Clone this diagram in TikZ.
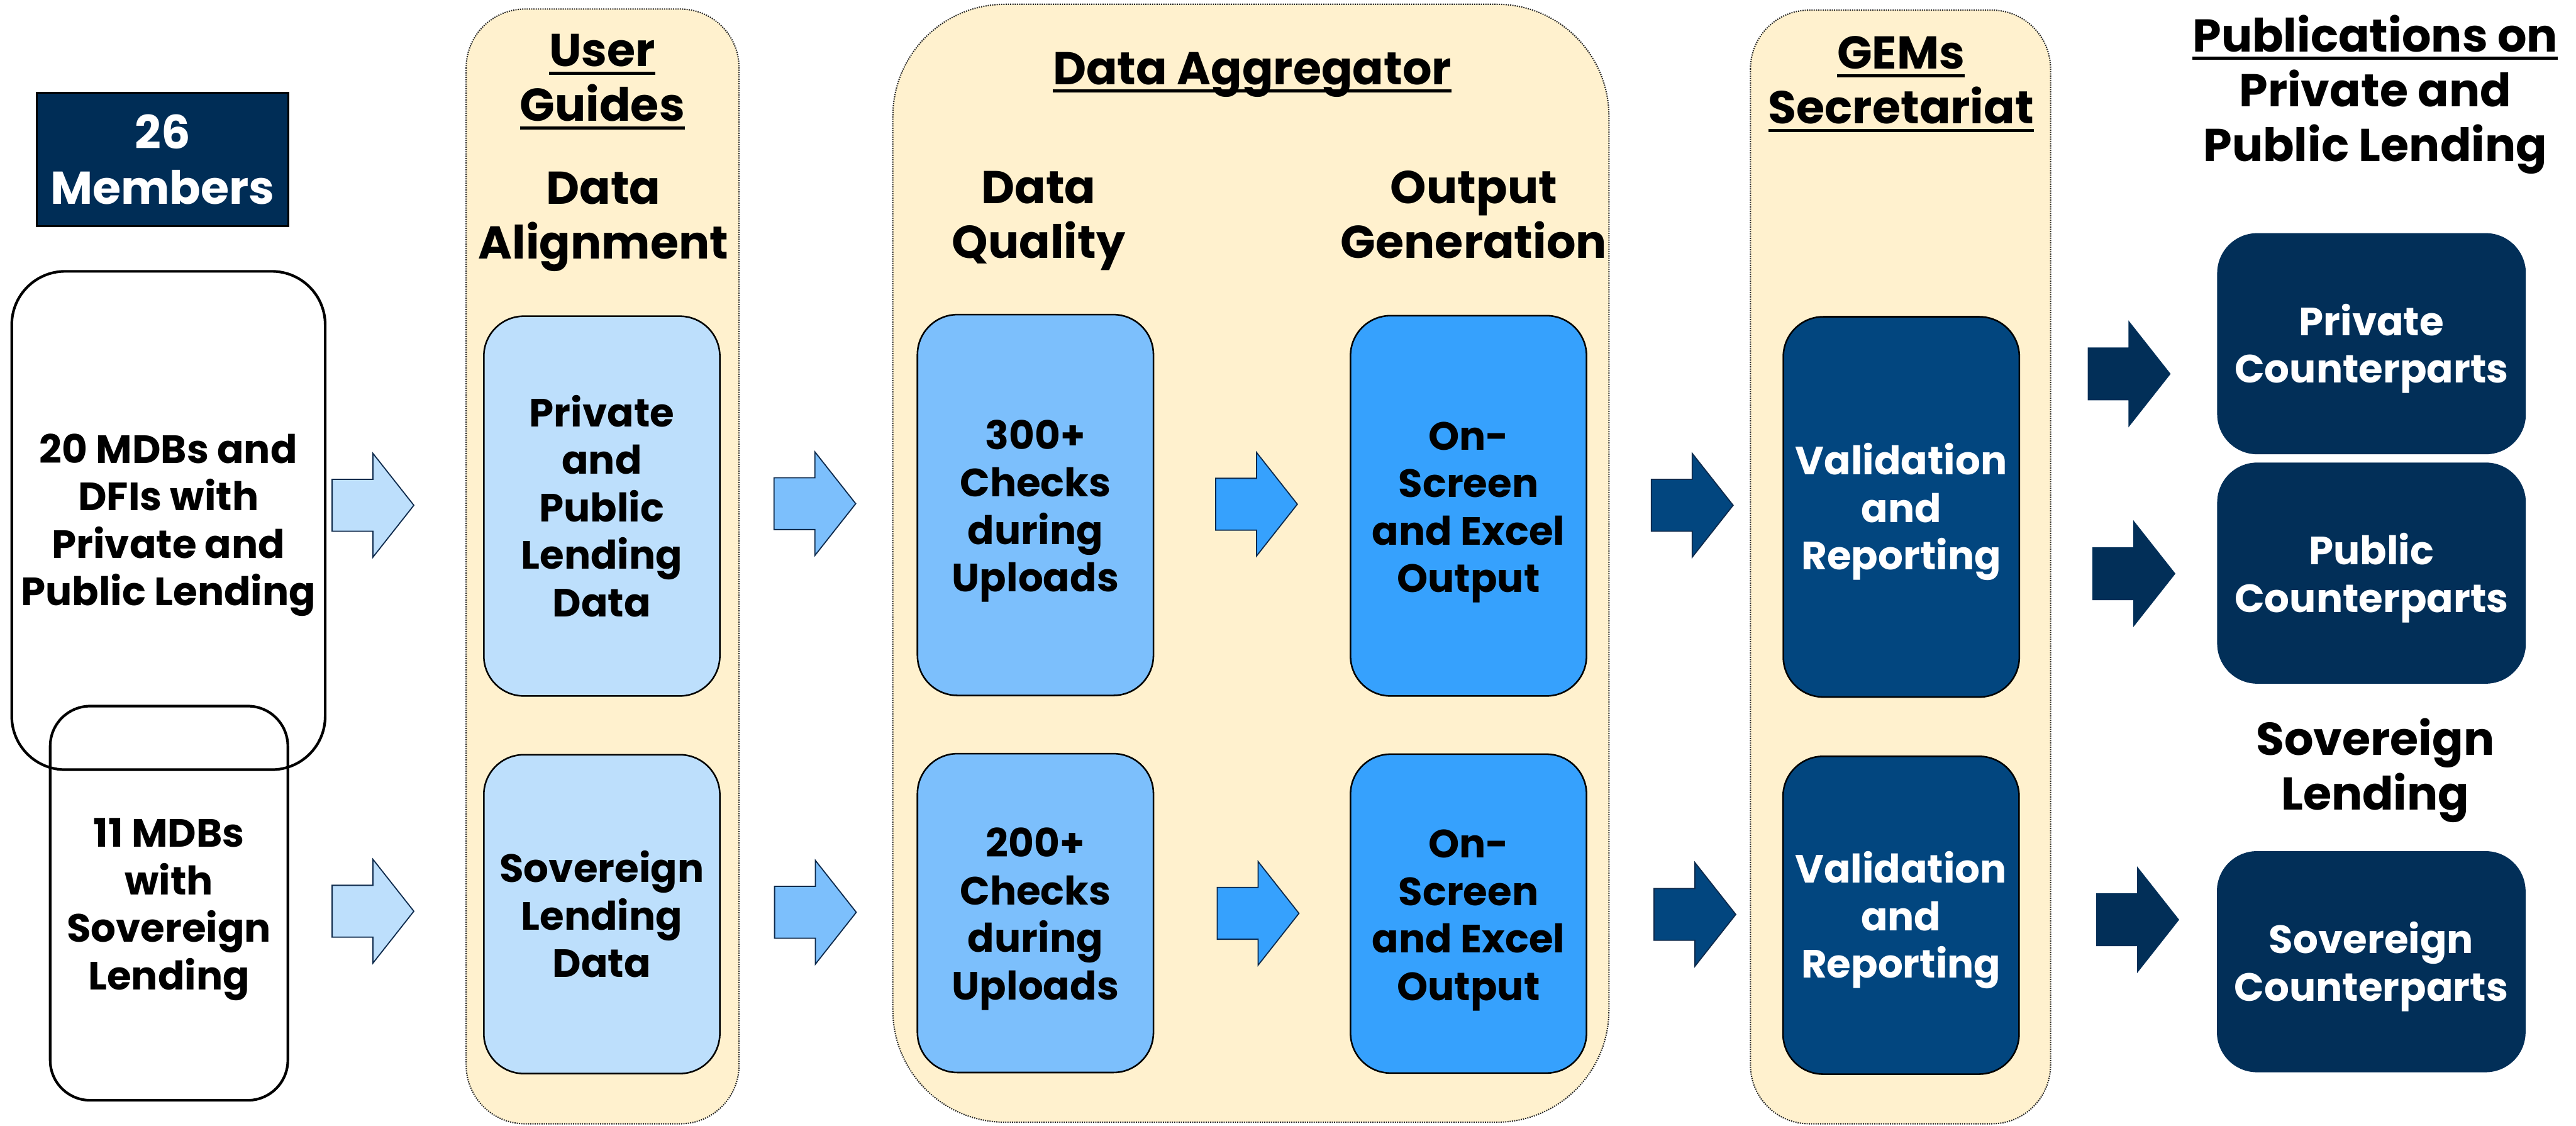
\documentclass[tikz,border=0pt]{standalone}
\usepackage{fontspec}
\setmainfont{Poppins}
\definecolor{cream}{HTML}{FFF1CE}
\definecolor{ugblue}{HTML}{BDDFFC}
\definecolor{dqblue}{HTML}{7CBFFC}
\definecolor{ogblue}{HTML}{36A1FD}
\definecolor{gemblue}{HTML}{02467F}
\definecolor{navyout}{HTML}{022F58}
\definecolor{navymem}{HTML}{002D56}
\definecolor{arrline}{HTML}{0E2A4C}
\newcommand\myuline[1]{\sbox0{#1}\rlap{\rule[-0.18em]{\wd0}{0.07em}}\usebox0}
\newcommand\tstrut{\rule{0pt}{1.05em}}
\newcommand\blockarrow[2]{\draw[barrow,#1,shift={#2}] (-0.765,-0.485) -- (0,-0.485) -- (0,-0.97) -- (0.765,0) -- (0,0.97) -- (0,0.485) -- (-0.765,0.485) -- cycle;}
\tikzset{
  panel/.style={draw=black!85, fill=cream, line width=0.7pt, dash pattern=on 0.6pt off 0.6pt},
  headtxt/.style={font=\fontsize{24.5}{29.2}\selectfont\bfseries, align=center, anchor=base, inner sep=0pt},
  bodyfont/.style={font=\fontsize{21}{25.3}\selectfont\bfseries, align=center},
  stagebox/.style={bodyfont, draw=black, line width=0.85pt, rounded corners=0.75cm, inner sep=0pt, minimum width=4.42cm},
  outbox/.style={bodyfont, fill=navyout, text=white, rounded corners=0.75cm, inner sep=0pt, minimum width=5.78cm, minimum height=4.14cm},
  srcbox/.style={bodyfont, draw=black, line width=1.4pt, inner sep=0pt},
  barrow/.style={line width=0.6pt, line join=miter},
}
\begin{document}
\begin{tikzpicture}
\useasboundingbox (0,0) rectangle (48.24,-21.07);
\fill[white] (0,0) rectangle (48.24,-21.07);

% panels
\draw[panel, rounded corners=1.1cm] (8.73,-0.17) rectangle (13.84,-21.04);
\draw[panel, rounded corners=2.1cm] (16.72,-0.08) rectangle (30.13,-21.01);
\draw[panel, rounded corners=1.1cm] (32.78,-0.19) rectangle (38.40,-21.04);

% source side
\node[draw=black, line width=1pt, fill=navymem, text=white, inner sep=0pt,
      minimum width=4.71cm, minimum height=2.49cm, align=center,
      font=\fontsize{24.5}{29.2}\selectfont\bfseries] (mem) at (3.045,-2.985) {26\\Members};
\node[srcbox, rounded corners=1.0cm, minimum width=5.87cm, minimum height=9.33cm] (big) at (3.155,-9.745)
  {\rule{0pt}{0.98em}20 MDBs and\\DFIs with\\Private and\\Public Lending};
\node[srcbox, rounded corners=0.75cm, minimum width=4.45cm, minimum height=7.38cm] (small) at (3.165,-16.91)
  {\tstrut 11 MDBs\\with\\Sovereign\\Lending};

% stage boxes
\node[stagebox, fill=ugblue, minimum height=7.11cm] (ug1) at (11.27,-9.475) {Private\\and\\Public\\Lending\\Data};
\node[stagebox, fill=ugblue, minimum height=5.97cm] (ug2) at (11.27,-17.115) {Sovereign\\Lending\\Data};
\node[stagebox, fill=dqblue, minimum height=7.13cm] (dq1) at (19.39,-9.455) {\tstrut 300+\\Checks\\during\\Uploads};
\node[stagebox, fill=dqblue, minimum height=5.97cm] (dq2) at (19.39,-17.095) {\tstrut 200+\\Checks\\during\\Uploads};
\node[stagebox, fill=ogblue, minimum height=7.12cm] (og1) at (27.50,-9.47) {\tstrut On-\\Screen\\and Excel\\Output};
\node[stagebox, fill=ogblue, minimum height=5.97cm] (og2) at (27.50,-17.105) {\tstrut On-\\Screen\\and Excel\\Output};
\node[stagebox, fill=gemblue, text=white, minimum height=7.12cm] (gm1) at (35.605,-9.49) {\tstrut Validation\\and\\Reporting};
\node[stagebox, fill=gemblue, text=white, minimum height=5.95cm] (gm2) at (35.60,-17.135) {\tstrut Validation\\and\\Reporting};

% outputs
\node[outbox] (pr) at (44.41,-6.435) {\tstrut Private\\Counterparts};
\node[outbox] (pu) at (44.41,-10.73) {\tstrut Public\\Counterparts};
\node[outbox] (sv) at (44.405,-18.005) {\tstrut Sovereign\\Counterparts};

% headings (anchor = baseline of last line)
\node[headtxt] (hug) at (11.28,-2.27) {\myuline{User}\\\myuline{Guides}};
\node[headtxt] (hda) at (11.30,-4.85) {Data\\Alignment};
\node[headtxt] (hagg) at (23.45,-1.58) {\myuline{Data Aggregator}};
\node[headtxt] (hdq) at (19.45,-4.84) {Data\\Quality};
\node[headtxt] (hog) at (27.60,-4.84) {Output\\Generation};
\node[headtxt] (hgm) at (35.60,-2.32) {\myuline{GEMs}\\\myuline{Secretariat}};
\node[headtxt] (hpub) at (44.48,-3.02) {\myuline{Publications on}\\Private and\\Public Lending};
\node[headtxt] (hsov) at (44.48,-15.16) {Sovereign\\Lending};

% block arrows
\blockarrow{fill=ugblue, draw=arrline}{(6.985,-9.46)}
\blockarrow{fill=ugblue, draw=arrline}{(6.985,-17.06)}
\blockarrow{fill=dqblue, draw=arrline}{(15.26,-9.43)}
\blockarrow{fill=dqblue, draw=arrline}{(15.27,-17.08)}
\blockarrow{fill=ogblue, draw=arrline}{(23.53,-9.44)}
\blockarrow{fill=ogblue, draw=arrline}{(23.56,-17.10)}
\blockarrow{fill=gemblue, draw=arrline}{(31.69,-9.46)}
\blockarrow{fill=gemblue, draw=arrline}{(31.74,-17.12)}
\blockarrow{fill=navyout, draw=navyout}{(39.87,-7.00)}
\blockarrow{fill=navyout, draw=navyout}{(39.96,-10.74)}
\blockarrow{fill=navyout, draw=navyout}{(40.03,-17.22)}
\end{tikzpicture}
\end{document}
